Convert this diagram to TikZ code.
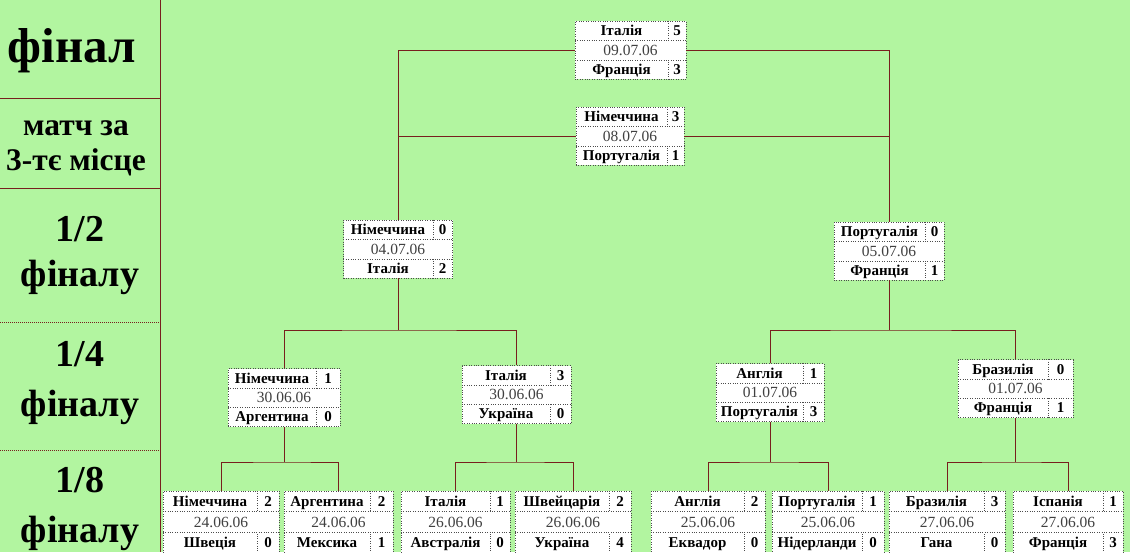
\documentclass[tikz,border=0pt]{standalone}
\usepackage{fontspec}
\setmainfont{Liberation Serif}
\usetikzlibrary{calc}

\definecolor{fieldgreen}{RGB}{178,245,160}
\definecolor{linkred}{RGB}{120,30,30}

\tikzset{
  matchbox/.style={draw=black!70, dotted, fill=white, minimum height=58pt, inner sep=0pt},
  cell/.style={draw=black!70, dotted},
  team/.style={inner sep=0pt, text height=10pt, text depth=0pt, font=\fontsize{15}{17}\selectfont\bfseries},
  when/.style={inner sep=0pt, text height=10pt, text depth=0pt, text=black!75, font=\fontsize{15.5}{17}\selectfont},
  link/.style={draw=linkred, line width=0.8pt},
  rule/.style={draw=linkred, line width=1pt},
  stage/.style={align=center, inner sep=0pt, font=\bfseries},
}

% one match: name, centre, width, score column width, team, score, date, team, score
\newcommand\matchbox[9]{%
  \node[matchbox, minimum width=#3pt] (#1) at #2 {};
  \coordinate (#1-a) at ($(#1.north west)!1/3!(#1.south west)$);
  \coordinate (#1-b) at ($(#1.north west)!2/3!(#1.south west)$);
  \coordinate (#1-c) at ($(#1.north east)!1/3!(#1.south east)$);
  \coordinate (#1-d) at ($(#1.north east)!2/3!(#1.south east)$);
  \coordinate (#1-s) at ($(#1.north east)+(-#4,0)$);
  \coordinate (#1-t) at ($(#1.south east)+(-#4,0)$);
  \draw[cell] (#1-a) -- (#1-c) (#1-b) -- (#1-d)
    (#1-s) -- (#1-s |- #1-a) (#1-t) -- (#1-t |- #1-b);
  \node[team] (#1-t1) at ($(#1.north west)!0.5!(#1-s |- #1-a)$) {#5};
  \node[team] (#1-s1) at ($(#1.north east)!0.5!(#1-s |- #1-a)$) {#6};
  \node[when] (#1-dt) at ($(#1-a)!0.5!(#1-d)$) {#7};
  \node[team] (#1-t2) at ($(#1-b)!0.5!(#1-t)$) {#8};
  \node[team] (#1-s2) at ($(#1-t |- #1-b)!0.5!(#1.south east)$) {#9};
}

\begin{document}
\begin{tikzpicture}[x=1pt,y=-1pt]
\useasboundingbox (0,0) rectangle (1130,552);
\fill[fieldgreen] (0,0) rectangle (1130,552);

%Stage column
\draw[rule] (160,0) -- (160,552);
\draw[rule] (0,98) -- (160,98);
\draw[rule] (0,188) -- (160,188);
\draw[rule, densely dotted] (0,322) -- (160,322);
\draw[rule, densely dotted] (0,450) -- (160,450);
% Text Node
\node[stage, font=\fontsize{49}{52}\selectfont\bfseries] (st-final) at (72,51) {фінал};
\node[stage, font=\fontsize{31.5}{35}\selectfont\bfseries] (st-third) at (76,148) {матч за\\3-тє місце};
\node[stage, font=\fontsize{38}{45}\selectfont\bfseries] (st-semi) at (80,256) {1/2\\фіналу};
\node[stage, font=\fontsize{38}{50}\selectfont\bfseries] (st-quarter) at (80,383) {1/4\\фіналу};
\node[stage, font=\fontsize{38}{50}\selectfont\bfseries] (st-eighth) at (80,509) {1/8\\фіналу};

\coordinate (lvls) at (0,330);
\coordinate (lvlq) at (0,462);

%Final and third place
\matchbox{final}{(630.5,50)}{111}{18}{Італія}{5}{09.07.06}{Франція}{3}
\matchbox{third}{(630,136)}{108}{17}{Німеччина}{3}{08.07.06}{Португалія}{1}

%Semi-finals
\matchbox{sfa}{(398,249)}{109}{20}{Німеччина}{0}{04.07.06}{Італія}{2}
\matchbox{sfb}{(889,251)}{110}{19}{Португалія}{0}{05.07.06}{Франція}{1}

%Quarter-finals
\matchbox{qfa}{(284,397.5)}{112}{24}{Німеччина}{1}{30.06.06}{Аргентина}{0}
\matchbox{qfb}{(516.5,394.5)}{109}{21}{Італія}{3}{30.06.06}{Україна}{0}
\matchbox{qfc}{(770,392.5)}{108}{21}{Англія}{1}{01.07.06}{Португалія}{3}
\matchbox{qfd}{(1015.5,388.5)}{115}{25}{Бразилія}{0}{01.07.06}{Франція}{1}

%Round of sixteen
\tikzset{matchbox/.append style={minimum height=62pt}}
\matchbox{ra}{(221,522)}{116}{22}{Німеччина}{2}{24.06.06}{Швеція}{0}
\matchbox{rb}{(338.5,522)}{109}{23}{Аргентина}{2}{24.06.06}{Мексика}{1}
\matchbox{rc}{(455.5,522)}{109}{20}{Італія}{1}{26.06.06}{Австралія}{0}
\matchbox{rd}{(573,522)}{116}{22}{Швейцарія}{2}{26.06.06}{Україна}{4}
\matchbox{re}{(708,522)}{114}{21}{Англія}{2}{25.06.06}{Еквадор}{0}
\matchbox{rf}{(828,522)}{112}{22}{Португалія}{1}{25.06.06}{Нідерланди}{0}
\matchbox{rg}{(947,522)}{116}{21}{Бразилія}{3}{27.06.06}{Гана}{0}
\matchbox{rh}{(1068,522)}{110}{20}{Іспанія}{1}{27.06.06}{Франція}{3}

%Straight Lines
\draw[link] (final.west) -| (sfa.north);
\draw[link] (final.east) -| (sfb.north);
\draw[link] (third.west) -- (third.west -| sfa.north);
\draw[link] (third.east) -- (third.east -| sfb.north);
%Straight Lines
\draw[link] (sfa.south) -- (sfa.south |- lvls);
\draw[link] (qfa.north) |- (sfa.south |- lvls) -| (qfb.north);
\draw[link] (sfb.south) -- (sfb.south |- lvls);
\draw[link] (qfc.north) |- (sfb.south |- lvls) -| (qfd.north);
%Straight Lines
\draw[link] (qfa.south) -- (qfa.south |- lvlq);
\draw[link] (ra.north) |- (qfa.south |- lvlq) -| (rb.north);
\draw[link] (qfb.south) -- (qfb.south |- lvlq);
\draw[link] (rc.north) |- (qfb.south |- lvlq) -| (rd.north);
\draw[link] (qfc.south) -- (qfc.south |- lvlq);
\draw[link] (re.north) |- (qfc.south |- lvlq) -| (rf.north);
\draw[link] (qfd.south) -- (qfd.south |- lvlq);
\draw[link] (rg.north) |- (qfd.south |- lvlq) -| (rh.north);

\end{tikzpicture}
\end{document}
